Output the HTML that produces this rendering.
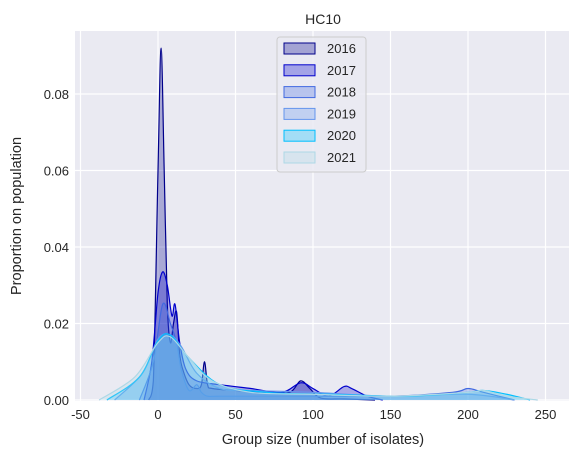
<!DOCTYPE html>
<html><head><meta charset="utf-8"><style>
body{margin:0;background:#fff;font-family:"Liberation Sans","DejaVu Sans",sans-serif}
svg{display:block}
text{font-family:"Liberation Sans","DejaVu Sans",sans-serif;fill:#262626}
</style></head><body>
<svg id="chart" width="579" height="457">
<rect x="75" y="31" width="494" height="370" fill="#eaeaf2"/>
<g id="grid"></g><g id="series"></g><g id="axes"></g>
<text x="323" y="24" font-size="14" text-anchor="middle">HC10</text>
<text x="323" y="444" font-size="14.5" text-anchor="middle">Group size (number of isolates)</text>
<text transform="translate(21,216) rotate(-90)" font-size="14.5" text-anchor="middle">Proportion on population</text>
<g id="legend"></g>
</svg>
<script>
const years=["2016","2017","2018","2019","2020","2021"];
const lineColors=["#00008b","#0000cd","#4169e1","#6495ed","#00bfff","#add8e6"];
const xTicks=[-50,0,50,100,150,200,250];
const yTicks=[0,0.02,0.04,0.06,0.08];
const x2016=[-6,-3,0,2,4,6,8,10,12,14,16,20,25,28,30,32,35,50,70,85,92,98,105,120,140];
const y2016=[0,0.005,0.06,0.092,0.06,0.025,0.015,0.02,0.023,0.012,0.008,0.004,0.003,0.004,0.01,0.004,0.003,0.0025,0.002,0.002,0.005,0.003,0.0005,0.0003,0];
const x2017=[-9,-4,0,3,6,9,11,14,18,25,40,60,80,92,100,110,120,125,135,145];
const y2017=[0,0.01,0.028,0.0335,0.03,0.022,0.025,0.015,0.008,0.005,0.004,0.003,0.002,0.0045,0.003,0.001,0.0035,0.003,0.001,0];
const x2018=[-12,-3,3,8,12,15,20,25,28,32,40,80,150,190,200,210,230];
const y2018=[0,0.01,0.025,0.02,0.015,0.008,0.0025,0.004,0.002,0.001,0.001,0.001,0.001,0.002,0.003,0.002,0];
const x2019=[-28,-10,0,8,15,25,40,60,100,150,200,230];
const y2019=[0,0.007,0.016,0.017,0.014,0.007,0.003,0.0025,0.002,0.001,0.0015,0];
const x2020=[-33,-12,0,8,20,40,70,110,160,200,210,225,240];
const y2020=[0,0.006,0.0155,0.017,0.011,0.004,0.002,0.0015,0.001,0.002,0.0025,0.0015,0];
const x2021=[-38,-15,0,8,20,35,60,100,150,200,210,225,245];
const y2021=[0,0.006,0.015,0.0165,0.011,0.005,0.002,0.0015,0.001,0.002,0.0025,0.001,0];
const xs=[x2016,x2017,x2018,x2019,x2020,x2021];
const ys=[y2016,y2017,y2018,y2019,y2020,y2021];
const X=v=>158+v*1.55;
const Y=v=>400-v*3825;
const NS="http://www.w3.org/2000/svg";
function mk(t,a,p){const e=document.createElementNS(NS,t);for(const k in a)e.setAttribute(k,a[k]);p.appendChild(e);return e;}
const grid=document.getElementById('grid'),axes=document.getElementById('axes');
xTicks.forEach(t=>{
 const l=mk('line',{x1:X(t),x2:X(t),y1:31,y2:401,stroke:'#fff','stroke-width':1.2},grid);
 
 
 const tx=mk('text',{x:X(t),y:419,'font-size':13,'text-anchor':'middle'},axes);tx.textContent=t;
 
 
});
yTicks.forEach(t=>{
 const l=mk('line',{x1:75,x2:569,y1:Y(t),y2:Y(t),stroke:'#fff','stroke-width':1.2},grid);
 
 
 const tx=mk('text',{x:69,y:Y(t)+5,'font-size':13,'text-anchor':'end'},axes);tx.textContent=t===0?'0.00':t.toFixed(2);
 
 
});
function path(px,py){
 let d='M'+px[0]+','+py[0];
 for(let i=0;i<px.length-1;i++){
  const p0=[px[Math.max(i-1,0)],py[Math.max(i-1,0)]],p1=[px[i],py[i]],p2=[px[i+1],py[i+1]],p3=[px[Math.min(i+2,px.length-1)],py[Math.min(i+2,px.length-1)]];
  let c1y=p1[1]+(p2[1]-p0[1])/6,c2y=p2[1]-(p3[1]-p1[1])/6;
  c1y=Math.min(c1y,400);c2y=Math.min(c2y,400);
  d+=` C${p1[0]+(p2[0]-p0[0])/6},${c1y} ${p2[0]-(p3[0]-p1[0])/6},${c2y} ${p2[0]},${p2[1]}`;
 }
 return d;
}
const sg=document.getElementById('series');
years.forEach((yr,i)=>{
 const px=xs[i].map(X),py=ys[i].map(Y);
 const d=path(px,py);
 const f=mk('path',{d:d+` L${px[px.length-1]},400 L${px[0]},400 Z`,fill:lineColors[i],'fill-opacity':0.28,stroke:'none'},sg);
 
 
 const l=mk('path',{d:d,fill:'none',stroke:lineColors[i],'stroke-width':1.2},sg);
 
 
});
const lg=document.getElementById('legend');
const box=mk('rect',{x:277,y:37,width:89,height:135,rx:3,fill:'#eaeaf2','fill-opacity':0.85,stroke:'#ccc'},lg);


years.forEach((yr,i)=>{
 const yy=48+i*21.8;
 const r=mk('rect',{x:284,y:yy-5,width:31,height:11,fill:lineColors[i],'fill-opacity':0.3,stroke:lineColors[i]},lg);
 
 
 const t=mk('text',{x:327,y:yy+5,'font-size':13},lg);t.textContent=yr;
 
 
});
</script>
</body></html>
